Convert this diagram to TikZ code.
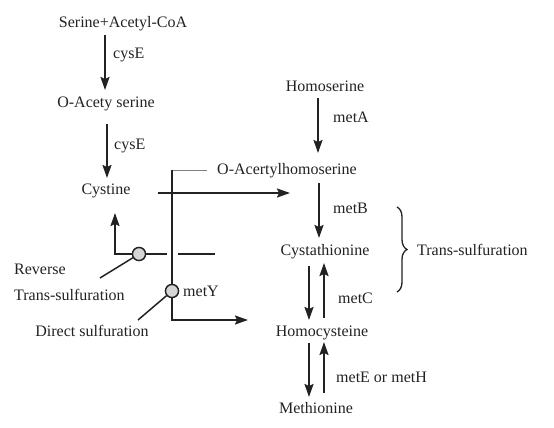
\documentclass[tikz,border=0pt]{standalone}
\usepackage{fontspec}
\setmainfont{Liberation Serif}
\usetikzlibrary{arrows.meta,decorations.pathreplacing}
\definecolor{ink}{HTML}{222222}
\definecolor{disc}{HTML}{D6D6D6}
\begin{document}
\begin{tikzpicture}[x=1pt,y=-1pt,
  lbl/.style={inner sep=0pt,font=\fontsize{16}{18}\selectfont,text=ink},
  arr/.style={draw=ink,line width=1.8pt,-{Stealth[length=13pt,width=9pt,inset=2pt]}},
  ln/.style={draw=ink,line width=1.8pt},
  thin/.style={draw=gray,line width=0.9pt},
  junc/.style={circle,draw=ink,line width=1.3pt,fill=disc,inner sep=0pt,minimum size=13pt}]
\useasboundingbox (0,0) rectangle (554,428);
% nodes
\node[lbl] (serine) at (123,24) {Serine+Acetyl-CoA};
\node[lbl] (oas) at (106,104) {O-Acety serine};
\node[lbl] (cystine) at (106,191) {Cystine};
\node[lbl] (homoserine) at (325,86) {Homoserine};
\node[lbl] (oah) at (287,171) {O-Acertylhomoserine};
\node[lbl] (cysta) at (325,252) {Cystathionine};
\node[lbl] (homocys) at (322,333) {Homocysteine};
\node[lbl] (methionine) at (316,408) {Methionine};
\node[lbl,anchor=west] (trans) at (417,250) {Trans-sulfuration};
\node[lbl,anchor=west] (reverse) at (14,269) {Reverse};
\node[lbl,anchor=west] (reverse2) at (14,295) {Trans-sulfuration};
\node[lbl] (direct) at (92,331) {Direct sulfuration};
\node[lbl,anchor=west] (metY) at (183,291) {metY};
\node[lbl,anchor=west] (cysE1) at (113,55) {cysE};
\node[lbl,anchor=west] (cysE2) at (114,146) {cysE};
\node[lbl,anchor=west] (metA) at (333,117) {metA};
\node[lbl,anchor=west] (metB) at (333,208) {metB};
\node[lbl,anchor=west] (metC) at (338,298) {metC};
\node[lbl,anchor=west] (metEH) at (336,377) {metE or metH};
% junctions
\node[junc] (jrev) at (139,254) {};
\node[junc] (jdir) at (172,291) {};
% anchor coordinates
\coordinate (s1) at (105,35); \coordinate (e1) at (105,90);
\coordinate (s2) at (107,124); \coordinate (e2) at (107,178);
\coordinate (s3) at (158,193); \coordinate (e3) at (290,193);
\coordinate (s4) at (318,98); \coordinate (e4) at (318,153);
\coordinate (s5) at (319,183); \coordinate (e5) at (319,238);
\coordinate (s6) at (309,266); \coordinate (e6) at (309,320);
\coordinate (s7) at (324,318); \coordinate (e7) at (324,263);
\coordinate (s8) at (309,343); \coordinate (e8) at (309,397);
\coordinate (s9) at (324,393); \coordinate (e9) at (324,342);
\coordinate (vtop) at (172,170); \coordinate (vtopr) at (207,170);
\coordinate (vbot) at (172,320); \coordinate (vend) at (248,320);
\coordinate (rcorner) at (115,254); \coordinate (rend) at (115,213);
\coordinate (rgapl) at (167,254); \coordinate (rgapr) at (178,254);
\coordinate (rright) at (215,254);
\coordinate (rtail) at (100,278); \coordinate (dtail) at (138,320);
\coordinate (bt) at (397,207); \coordinate (bb) at (397,292);
% arrows
\draw[arr] (s1) -- (e1);
\draw[arr] (s2) -- (e2);
\draw[thin] (vtopr) -- (vtop);
\draw[arr] (vtop) -- (jdir) -- (vbot) -- (vend);
\draw[arr] (s3) -- (e3);
\draw[arr] (s4) -- (e4);
\draw[arr] (s5) -- (e5);
\draw[arr] (s6) -- (e6);
\draw[arr] (s7) -- (e7);
\draw[arr] (s8) -- (e8);
\draw[arr] (s9) -- (e9);
\draw[arr] (rgapl) -- (rcorner) -- (rend);
\draw[ln] (rgapr) -- (rright);
\draw[ink,line width=1.5pt] (jrev) -- (rtail);
\draw[ink,line width=1.5pt] (jdir) -- (dtail);
\node[junc] at (jrev) {};
\node[junc] at (jdir) {};
\draw[ink,line width=1.3pt,decorate,decoration={brace,amplitude=10pt}] (bt) -- (bb);
\end{tikzpicture}
\end{document}
